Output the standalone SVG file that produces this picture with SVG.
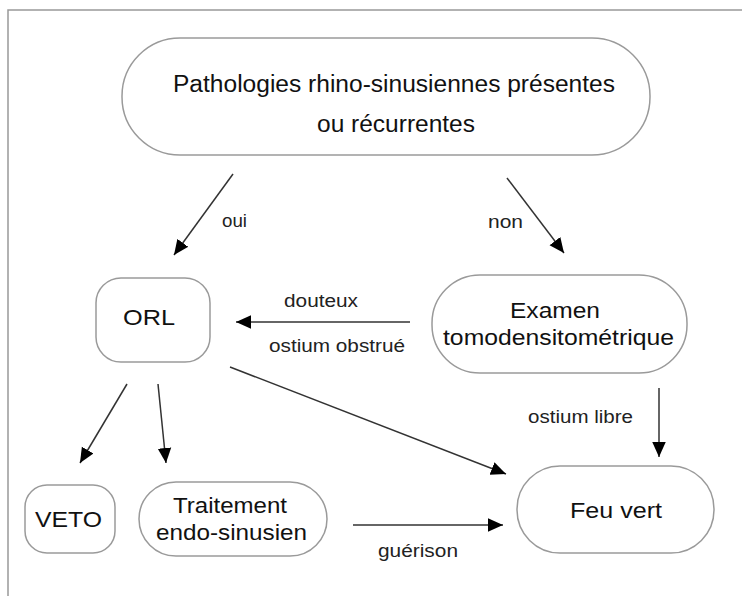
<svg xmlns="http://www.w3.org/2000/svg" width="742" height="596" viewBox="0 0 742 596">
<style>
.node{fill:#fff;stroke:#9a9a9a;stroke-width:1.5}
.nt{font-family:"Liberation Sans",Arial,sans-serif;font-size:22px;fill:#111}
.big{font-size:23px}
.lb{font-family:"Liberation Sans",Arial,sans-serif;font-size:18px;fill:#222}
.edge{stroke:#333;stroke-width:1.5;fill:none;marker-end:url(#ah)}
</style>
<defs>
<marker id="ah" viewBox="0 0 10 10" refX="10" refY="5" markerWidth="15" markerHeight="15" markerUnits="userSpaceOnUse" orient="auto">
<path d="M0,0.5 L10,5 L0,9.5 z" fill="#000"/>
</marker>
</defs>
<rect width="742" height="596" fill="#fff"/>
<path d="M8,596 L8,10 L742,10" fill="none" stroke="#999" stroke-width="1.5"/>
<g id="n-patho">
<rect class="node" x="122" y="38" width="528" height="117" rx="58" ry="58"/>
<text class="nt big" x="173" y="92" textLength="442" lengthAdjust="spacingAndGlyphs">Pathologies rhino-sinusiennes présentes</text>
<text class="nt big" x="317" y="132" textLength="158" lengthAdjust="spacingAndGlyphs">ou récurrentes</text>
</g>
<g id="n-orl">
<rect class="node" x="96" y="278" width="114" height="84" rx="25" ry="25"/>
<text class="nt" x="123" y="325" textLength="52" lengthAdjust="spacingAndGlyphs">ORL</text>
</g>
<g id="n-examen">
<rect class="node" x="432" y="275" width="255" height="98" rx="48" ry="48"/>
<text class="nt" x="510" y="318" textLength="90" lengthAdjust="spacingAndGlyphs">Examen</text>
<text class="nt" x="443" y="345" textLength="231" lengthAdjust="spacingAndGlyphs">tomodensitométrique</text>
</g>
<g id="n-veto">
<rect class="node" x="25" y="485" width="90" height="68" rx="22" ry="22"/>
<text class="nt" x="35" y="527" textLength="67" lengthAdjust="spacingAndGlyphs">VETO</text>
</g>
<g id="n-traitement">
<rect class="node" x="139" y="482" width="188" height="74" rx="37" ry="37"/>
<text class="nt" x="173" y="513" textLength="114" lengthAdjust="spacingAndGlyphs">Traitement</text>
<text class="nt" x="156" y="540" textLength="151" lengthAdjust="spacingAndGlyphs">endo-sinusien</text>
</g>
<g id="n-feuvert">
<rect class="node" x="517" y="466" width="197" height="87" rx="43" ry="43"/>
<text class="nt" x="570" y="518" textLength="92" lengthAdjust="spacingAndGlyphs">Feu vert</text>
</g>
<g id="connectors">
<line class="edge" x1="233" y1="174" x2="174" y2="255"/>
<line class="edge" x1="507" y1="178" x2="564" y2="253"/>
<line class="edge" x1="410" y1="322" x2="236" y2="322"/>
<line class="edge" x1="230" y1="367" x2="506" y2="474"/>
<line class="edge" x1="127" y1="384" x2="80" y2="463"/>
<line class="edge" x1="158" y1="384" x2="166" y2="463"/>
<line class="edge" x1="659" y1="388" x2="659" y2="457"/>
<line class="edge" x1="353" y1="525" x2="503" y2="525"/>
<text class="lb" x="222" y="227" textLength="25" lengthAdjust="spacingAndGlyphs">oui</text>
<text class="lb" x="488" y="228" textLength="35" lengthAdjust="spacingAndGlyphs">non</text>
<text class="lb" x="284" y="307" textLength="74" lengthAdjust="spacingAndGlyphs">douteux</text>
<text class="lb" x="269" y="352" textLength="136" lengthAdjust="spacingAndGlyphs">ostium obstrué</text>
<text class="lb" x="528" y="423" textLength="105" lengthAdjust="spacingAndGlyphs">ostium libre</text>
<text class="lb" x="378" y="557" textLength="80" lengthAdjust="spacingAndGlyphs">guérison</text>
</g>
</svg>
